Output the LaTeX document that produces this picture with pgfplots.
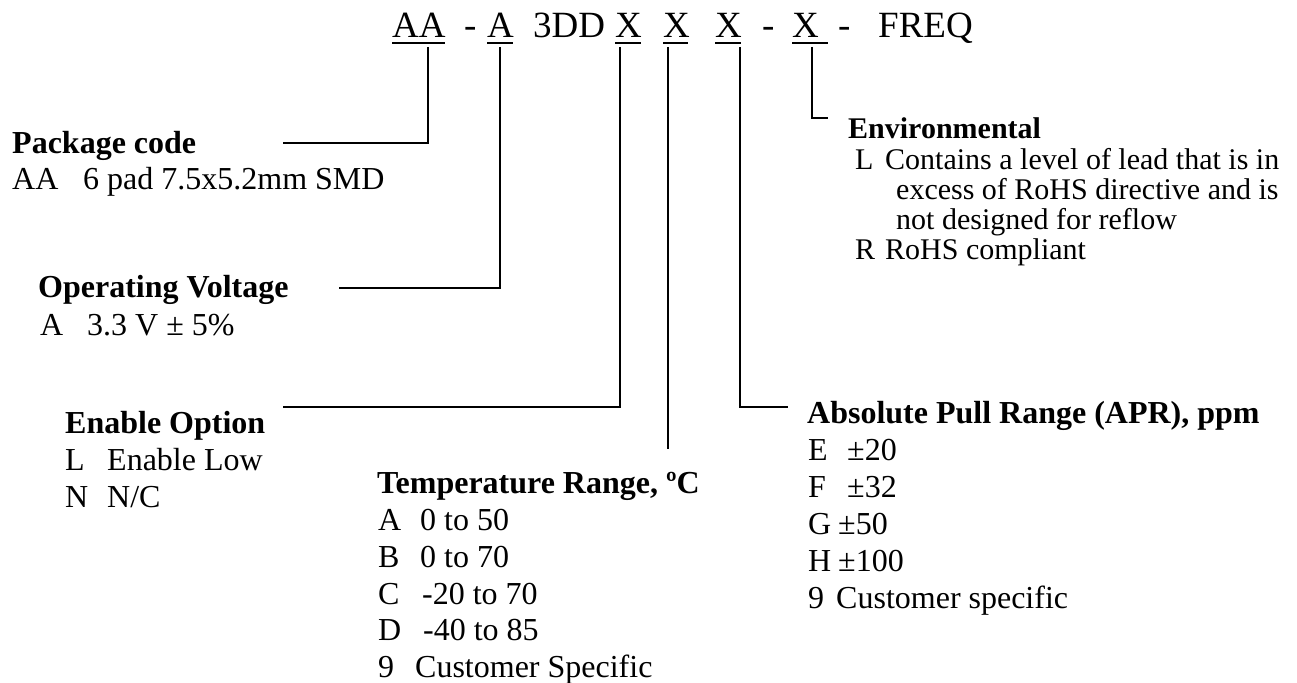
\documentclass[border=0pt]{standalone}
\usepackage{pgfplots}
\pgfplotsset{compat=1.18}
\usepackage{fontspec}
\setmainfont{Liberation Serif}
\tikzset{ln/.style={black, line width=2pt, mark=none, solid},
  ul/.style={black, line width=1.8pt, mark=none, solid}}
\begin{document}
\begin{tikzpicture}
\useasboundingbox (0,0) rectangle (1297pt,682pt);
\begin{axis}[width=1297pt, height=682pt, scale only axis, at={(0,0)}, anchor=south west,
  xmin=0, xmax=1297, ymin=0, ymax=682, y dir=reverse, hide axis, clip=false,
  nodes={inner sep=0pt, anchor=base west, font=\fontsize{32}{38}\selectfont}]
% leader lines
\addplot[ln] coordinates {(428,47) (428,143) (283,143)};
\addplot[ln] coordinates {(500,47) (500,288) (339,288)};
\addplot[ln] coordinates {(620,47) (620,407) (283,407)};
\addplot[ln] coordinates {(668,47) (668,449)};
\addplot[ln] coordinates {(740,47) (740,407) (788,407)};
\addplot[ln] coordinates {(812,47) (812,118) (828,118)};
% underlines
\addplot[ul] coordinates {(392,43) (445,43)};
\addplot[ul] coordinates {(487,43) (513,43)};
\addplot[ul] coordinates {(615,43) (641,43)};
\addplot[ul] coordinates {(663,43) (688,43)};
\addplot[ul] coordinates {(715,43) (741,43)};
\addplot[ul] coordinates {(792,43) (828,43)};
% part number
\begin{scope}[every node/.append style={font=\fontsize{37}{40}\selectfont}]
\node at (axis cs:392,38) {AA};
\node at (axis cs:464,38) {-};
\node at (axis cs:487,38) {A};
\node at (axis cs:533,38) {3DD};
\node at (axis cs:615,38) {X};
\node at (axis cs:663,38) {X};
\node at (axis cs:715,38) {X};
\node at (axis cs:762,38) {-};
\node at (axis cs:792,38) {X};
\node at (axis cs:838,38) {-};
\node at (axis cs:878,38) {FREQ};
\end{scope}
% Package code
\node at (axis cs:12,153) {\bfseries Package code};
\node at (axis cs:12,189) {AA};
\node at (axis cs:83,189) {6 pad 7.5x5.2mm SMD};
% Operating voltage
\node at (axis cs:38,297) {\bfseries Operating Voltage};
\node at (axis cs:40,335) {A};
\node at (axis cs:87,335) {3.3 V ± 5\%};
% Enable option
\node at (axis cs:65,433) {\bfseries Enable Option};
\node at (axis cs:65,470) {L};
\node at (axis cs:107,470) {Enable Low};
\node at (axis cs:65,507) {N};
\node at (axis cs:107,507) {N/C};
% Temperature range
\node at (axis cs:377,493) {\bfseries Temperature Range, ºC};
\node at (axis cs:378,530) {A};
\node at (axis cs:420,530) {0 to 50};
\node at (axis cs:378,567) {B};
\node at (axis cs:420,567) {0 to 70};
\node at (axis cs:378,604) {C};
\node at (axis cs:422,604) {-20 to 70};
\node at (axis cs:378,640) {D};
\node at (axis cs:423,640) {-40 to 85};
\node at (axis cs:378,677) {9};
\node at (axis cs:415,677) {Customer Specific};
% APR
\node at (axis cs:807,423) {\bfseries Absolute Pull Range (APR), ppm};
\node at (axis cs:808,460) {E};
\node at (axis cs:847,460) {±20};
\node at (axis cs:808,497) {F};
\node at (axis cs:847,497) {±32};
\node at (axis cs:808,534) {G};
\node at (axis cs:838,534) {±50};
\node at (axis cs:808,571) {H};
\node at (axis cs:838,571) {±100};
\node at (axis cs:808,608) {9};
\node at (axis cs:836,608) {Customer specific};
% Environmental
\begin{scope}[every node/.append style={font=\fontsize{30}{34}\selectfont}]
\node at (axis cs:848,139) {\bfseries Environmental};
\node at (axis cs:855,169) {L};
\node at (axis cs:885,169) {Contains a level of lead that is in};
\node at (axis cs:896,199) {excess of RoHS directive and is};
\node at (axis cs:896,229) {not designed for reflow};
\node at (axis cs:855,259) {R};
\node at (axis cs:885,259) {RoHS compliant};
\end{scope}
\end{axis}
\end{tikzpicture}
\end{document}
